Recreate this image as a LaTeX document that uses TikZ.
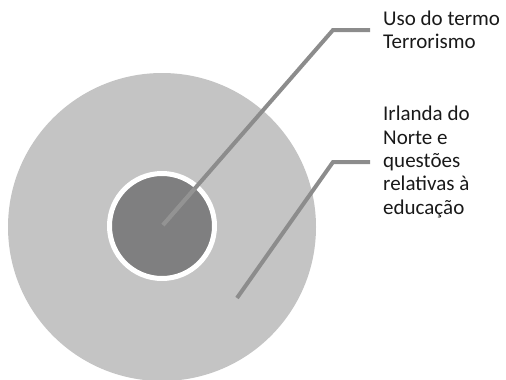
\documentclass[tikz,border=0pt]{standalone}
\usepackage{fontspec}
\setmainfont{Carlito}
\begin{document}
\begin{tikzpicture}[x=1pt,y=-1pt,
  lbl/.style={anchor=west,inner sep=0pt,align=left,text=black!90,
    font=\fontsize{21}{23.3}\selectfont},
  leader/.style={draw=leadgray,line width=4pt}]
\definecolor{outergray}{HTML}{C4C4C4}
\definecolor{innergray}{HTML}{7F7F80}
\definecolor{leadgray}{HTML}{8C8C8C}
\definecolor{leadlight}{HTML}{939393}
\useasboundingbox (0,0) rectangle (506,380);
\node[circle,fill=outergray,minimum size=308pt,inner sep=0pt] (outer) at (162,227) {};
\node[circle,fill=innergray,draw=white,line width=5pt,minimum size=105pt,inner sep=0pt] (inner) at (162,226) {};
\node[lbl] (lab1) at (383,30) {Uso do termo\\Terrorismo};
\node[lbl] (lab2) at (383,162) {Irlanda do\\Norte e\\questões\\relativas à\\educação};
\coordinate (p1) at (163,225);
\coordinate (b1) at (333,30);
\coordinate (e1) at ([xshift=-13pt]lab1.west);
\coordinate (p2) at (237,298);
\coordinate (b2) at (333,162);
\coordinate (e2) at ([xshift=-13pt]lab2.west);
\draw[leader] (p1) -- (b1) -- (e1);
\draw[leader] (p2) -- (b2) -- (e2);
\begin{scope}
  \clip (inner.center) circle (50pt);
  \draw[leader,draw=leadlight] (p1) -- (b1);
\end{scope}
\end{tikzpicture}
\end{document}
